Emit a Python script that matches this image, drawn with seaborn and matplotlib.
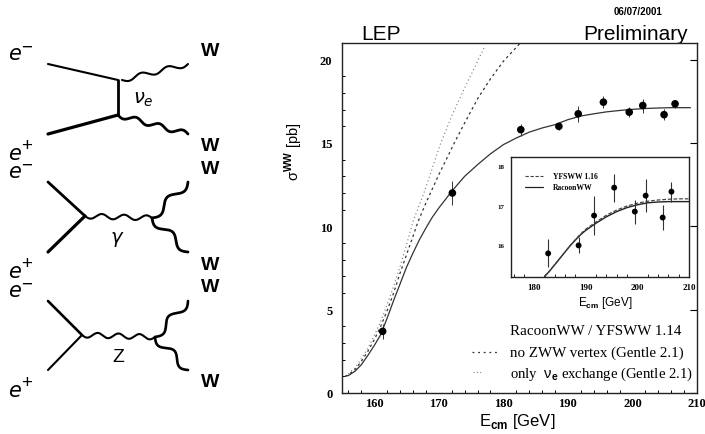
import numpy as np
import pandas as pd
import matplotlib
matplotlib.use("Agg")
import matplotlib.pyplot as plt
import seaborn as sns
from matplotlib.transforms import Bbox

# measured cross sections
energy = [161.3, 172.1, 182.7, 188.6, 191.6, 195.5, 199.5, 201.6, 204.9, 206.6]
sigma = [3.7, 12.0, 15.8, 16.0, 16.75, 17.45, 16.85, 17.25, 16.7, 17.35]
sigma_err = [0.45, 0.7, 0.35, 0.2, 0.5, 0.35, 0.3, 0.42, 0.32, 0.25]

# theory curves
racoon_x = [155.5, 156, 157, 158, 159, 160, 161, 162, 163, 164, 165, 166, 167, 168, 169, 170, 172, 174, 176,
            178, 180, 182, 184, 186, 188, 190, 192, 194, 196, 198, 200, 202, 204, 206, 209]
racoon_y = [1.0, 1.05, 1.3, 1.7, 2.25, 2.85, 3.5, 4.5, 5.55, 6.55, 7.55, 8.4, 9.2, 9.9, 10.55, 11.1, 12.1, 13.0, 13.7,
            14.35, 14.9, 15.3, 15.65, 15.9, 16.1, 16.4, 16.62, 16.75, 16.87, 16.95, 17.02, 17.07, 17.1, 17.12, 17.12]
nozww_x = [155.5, 156, 157, 158, 159, 160, 161, 162, 163, 164, 165, 166, 166.8, 168, 170, 172.4, 174, 176,
           178, 180, 182.5]
nozww_y = [1.0, 1.1, 1.4, 1.9, 2.5, 3.2, 4.0, 4.95, 6.0, 7.2, 8.3, 9.4, 10.3, 11.4, 13.1, 15.0, 16.2, 17.65,
           18.85, 19.9, 20.95]
nue_x = [155.5, 156, 157, 158, 159, 160, 161, 162, 163, 164, 165, 166, 167.6, 169, 170.3, 172.2, 174, 175.5, 177]
nue_y = [1.0, 1.15, 1.5, 2.05, 2.7, 3.45, 4.3, 5.3, 6.4, 7.6, 8.9, 10.3, 11.9, 13.5, 15.0, 16.8, 18.3, 19.5, 20.7]

# inset curves
inset_racoon_x = [182, 183, 184, 185, 186, 187, 188, 189, 190, 191, 192, 194, 196, 198, 200, 202, 204, 206, 208, 210]
inset_racoon_y = [15.22, 15.36, 15.52, 15.68, 15.84, 16.0, 16.14, 16.27, 16.38, 16.47, 16.56, 16.72, 16.85, 16.95,
                  17.02, 17.07, 17.09, 17.1, 17.1, 17.1]
inset_yfs_y = [15.22, 15.36, 15.52, 15.68, 15.84, 16.0, 16.15, 16.29, 16.41, 16.5, 16.59, 16.76, 16.89, 16.99,
               17.06, 17.11, 17.14, 17.16, 17.17, 17.17]

main_xticks = [160, 170, 180, 190, 200, 210]
main_yticks = [0, 5, 10, 15, 20]
inset_xticks = [180, 190, 200, 210]
inset_yticks = [16, 17, 18]

# feynman diagram pieces, in picture pixels
fermion_lines = [
    ((48, 65), (118, 81), 1.5), ((118, 81), (118, 116), 2.0), ((48, 135), (118, 116), 2.3),
    ((48, 183), (85, 217), 2.0), ((48, 253), (85, 217), 2.3),
    ((48, 302), (82, 336), 1.9), ((48, 371), (82, 336), 1.5),
]
boson_lines = [
    ((122, 81), (188, 65), 2.5, 2.5, 1.5), ((118, 116), (188, 135), 3, 2.5, 2.0),
    ((85, 217), (152, 219), 3, 2.5, 1.5), ((152, 219), (188, 183), 1.5, 4, 2.0), ((152, 219), (188, 253), 1.5, 4, 2.0),
    ((82, 336), (155, 338), 3.5, 2.5, 1.5), ((155, 338), (188, 302), 1.5, 4, 1.9), ((155, 338), (188, 371), 1.5, 4, 1.9),
]
w_labels_y = [52, 147, 170, 266, 288, 383]
em_baselines = [60, 178, 297]
ep_baselines = [160, 278, 397]


def wave(ax, start, end, cycles, amp, lw):
    t = np.linspace(0, 1, 160)
    dx, dy = end[0] - start[0], end[1] - start[1]
    length = np.hypot(dx, dy)
    off = amp * np.sin(2 * np.pi * cycles * t)
    ax.plot(start[0] + dx * t - dy / length * off, start[1] + dy * t + dx / length * off,
            color="black", lw=lw, solid_capstyle="round")


sns.set_style("white")
plt.rcParams["font.family"] = ["Liberation Serif", "DejaVu Sans"]
plt.rcParams["mathtext.fontset"] = "custom"
plt.rcParams["mathtext.rm"] = "Liberation Sans"
plt.rcParams["mathtext.bf"] = "Liberation Sans:bold"
plt.rcParams["mathtext.it"] = "DejaVu Sans:italic"
plt.rcParams["text.color"] = "black"
plt.rcParams["xtick.color"] = "black"
plt.rcParams["ytick.color"] = "black"

fig = plt.figure(figsize=(7.05, 4.35), dpi=100)

# main plot
ax = fig.add_axes([342 / 705, 1 - 394 / 435, 355 / 705, 350 / 435])
curves = pd.concat([
    pd.DataFrame({"x": racoon_x, "y": racoon_y, "model": "racoon"}),
    pd.DataFrame({"x": nozww_x, "y": nozww_y, "model": "nozww"}),
    pd.DataFrame({"x": nue_x, "y": nue_y, "model": "nue"}),
])
sns.lineplot(data=curves[curves.model == "racoon"], x="x", y="y", ax=ax, color="#333333", lw=0.9)
sns.lineplot(data=curves[curves.model == "nozww"], x="x", y="y", ax=ax, color="#333333", lw=0.9, ls=(0, (2, 2.5)))
sns.lineplot(data=curves[curves.model == "nue"], x="x", y="y", ax=ax, color="#777777", lw=0.8, ls=(0, (1, 2.5)))
ax.errorbar(energy, sigma, yerr=sigma_err, fmt="none", ecolor="#333333", elinewidth=0.7)
sns.scatterplot(x=energy, y=sigma, ax=ax, color="black", s=30, edgecolor="none", zorder=5)
ax.set_xlim(155, 210)
ax.set_ylim(0, 21)
ax.set_xticks(main_xticks)
ax.set_yticks(main_yticks)
ax.set_xticks(np.arange(156, 210, 2), minor=True)
ax.set_yticks(np.arange(0, 21, 1), minor=True)
ax.tick_params(which="major", direction="in", length=5, width=0.8, top=False, right=True, labelsize=9)
ax.tick_params(which="minor", direction="in", length=2.5, width=0.7, bottom=True, left=True)
ax.tick_params(axis="x", pad=3)
ax.tick_params(axis="y", pad=7)
for lab in ax.get_xticklabels() + ax.get_yticklabels():
    lab.set_fontweight("bold")
ax.set_xlabel("")
ax.set_ylabel("")
for side in ax.spines.values():
    side.set_color("#222222")
    side.set_linewidth(1.0)

# inset
inset = fig.add_axes([511 / 705, 1 - 277.5 / 435, 178 / 705, 119.5 / 435])
sns.lineplot(x=inset_racoon_x, y=inset_racoon_y, ax=inset, color="#222222", lw=1.0)
sns.lineplot(x=inset_racoon_x, y=inset_yfs_y, ax=inset, color="#444444", lw=0.9, ls=(0, (3, 1.5)))
inset.errorbar(energy[2:], sigma[2:], yerr=sigma_err[2:], fmt="none", ecolor="#333333", elinewidth=0.8)
sns.scatterplot(x=energy[2:], y=sigma[2:], ax=inset, color="black", s=18, edgecolor="none", zorder=5)
inset.set_xlim(175.5, 210)
inset.set_ylim(15.22, 18.22)
inset.set_xticks(inset_xticks)
inset.set_yticks(inset_yticks)
inset.set_xticks(np.arange(176, 210, 2), minor=True)
inset.tick_params(which="major", direction="in", length=4, width=0.7, labelsize=6.5, pad=5)
inset.tick_params(which="minor", direction="in", length=2, width=0.6, bottom=True)
inset.tick_params(axis="y", labelsize=5, pad=5)
for lab in inset.get_xticklabels() + inset.get_yticklabels():
    lab.set_fontweight("bold")
for side in inset.spines.values():
    side.set_color("#222222")
    side.set_linewidth(1.0)
inset.patch.set_alpha(0)

# overlay in picture pixels for the diagrams and the loose text
over = fig.add_axes([0, 0, 1, 1], zorder=10)
over.set_xlim(0, 705)
over.set_ylim(435, 0)
over.axis("off")

for start, end, lw in fermion_lines:
    over.plot([start[0], end[0]], [start[1], end[1]], color="black", lw=lw, solid_capstyle="round")
for start, end, cycles, amp, lw in boson_lines:
    wave(over, start, end, cycles, amp, lw)

sans = ["Liberation Sans", "DejaVu Sans"]
for y in w_labels_y:
    over.text(210, y, "W", family=sans, fontsize=14, fontweight="bold", ha="center", va="center")
for y in em_baselines:
    over.text(8, y, "e", family=["DejaVu Sans"], style="italic", fontsize=15, ha="left", va="baseline")
    over.text(27, y - 12, "\u2212", family=sans, fontsize=13.5, ha="center", va="center")
for y in ep_baselines:
    over.text(8, y, "e", family=["DejaVu Sans"], style="italic", fontsize=15, ha="left", va="baseline")
    over.text(27, y - 13, "+", family=sans, fontsize=13.5, ha="center", va="center")
over.text(143, 100, r"$\nu_{e}$", fontsize=14, ha="center", va="center")
over.text(117, 240, r"$\gamma$", fontsize=14, ha="center", va="center")
over.text(118, 358, "Z", family=sans, fontsize=14, ha="center", va="center")

over.text(361, 34, "LEP", family=sans, fontsize=15, ha="left", va="center")
prelim = over.text(583, 35, "Preliminary", family=sans, fontsize=15, ha="left", va="center")
prelim.set_clip_box(Bbox.from_extents(0, 391, 705, 435))
prelim.set_clip_on(True)
over.text(614, 12, "06/07/2001", family=sans, fontsize=7, fontweight="bold", ha="left", va="center")
over.text(517, 422, r"E$_{\mathbf{cm}}$ [GeV]", family=sans, fontsize=12, ha="center", va="center")
over.text(294, 152, r"$\mathrm{\sigma}^{\mathbf{WW}}$ [pb]", family=sans, fontsize=10.5, rotation=90,
          ha="center", va="center")

over.text(605, 303, r"E$_{\mathbf{cm}}$ [GeV]", family=sans, fontsize=8.5, ha="center", va="center")
over.text(553, 177, "YFSWW 1.16", fontsize=5.5, fontweight="bold", ha="left", va="center")
over.text(553, 188, "RacoonWW", fontsize=5.5, fontweight="bold", ha="left", va="center")
over.plot([525, 543], [177, 177], color="#444444", lw=0.8, ls=(0, (3, 1.5)))
over.plot([525, 543], [188, 188], color="#222222", lw=0.9)

over.text(510, 332, "RacoonWW / YFSWW 1.14", fontsize=10.8, ha="left", va="center")
over.text(510, 353, "no ZWW vertex (Gentle 2.1)", fontsize=10.8, ha="left", va="center")
over.text(510, 374, r"only  $\mathrm{\nu}_{\mathbf{e}}$ exchange (Gentle 2.1)", fontsize=10.6, ha="left", va="center")
over.plot([472, 497], [353, 353], color="#333333", lw=0.9, ls=(0, (1.5, 3)))
over.plot([473, 481], [373, 373], color="#888888", lw=0.8, ls=(0, (1, 2)))

fig.savefig("out.png", dpi=100)
